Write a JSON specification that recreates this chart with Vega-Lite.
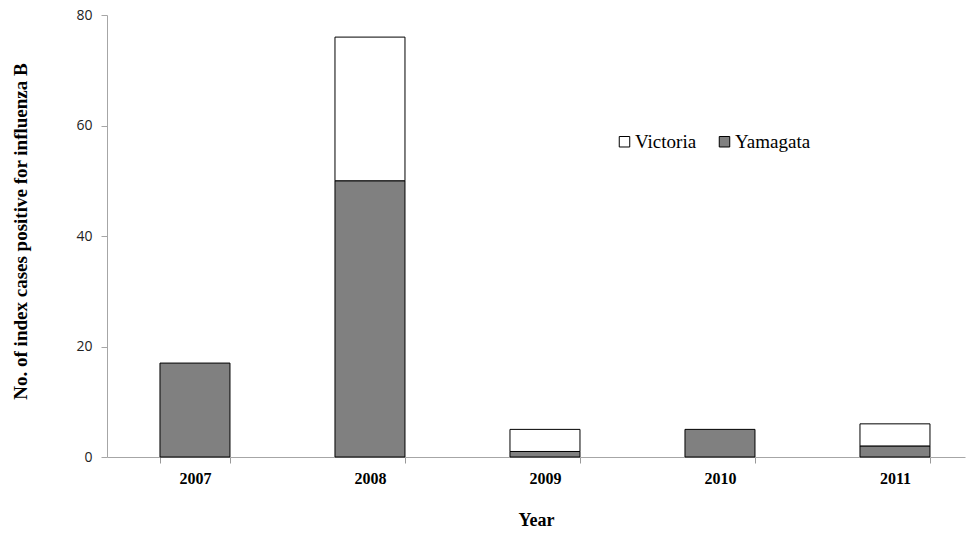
{
  "$schema": "https://vega.github.io/schema/vega-lite/v6.json",
  "width": 858,
  "height": 442,
  "autosize": "none",
  "padding": {"left": 107, "top": 15, "right": 7, "bottom": 79},
  "background": "white",
  "data": {
    "values": [
      {"year": "2007", "strain": "Yamagata", "cases": 17},
      {"year": "2008", "strain": "Yamagata", "cases": 50},
      {"year": "2008", "strain": "Victoria", "cases": 26},
      {"year": "2009", "strain": "Yamagata", "cases": 1},
      {"year": "2009", "strain": "Victoria", "cases": 4},
      {"year": "2010", "strain": "Yamagata", "cases": 5},
      {"year": "2011", "strain": "Yamagata", "cases": 2},
      {"year": "2011", "strain": "Victoria", "cases": 4}
    ]
  },
  "mark": {"type": "bar", "stroke": "#000000", "strokeWidth": 1},
  "encoding": {
    "x": {
      "field": "year",
      "type": "nominal",
      "scale": {"paddingInner": 0.6, "paddingOuter": 0.2514, "align": 0.602},
      "axis": {
        "title": "Year",
        "labelAngle": 0,
        "labelFont": "Liberation Serif",
        "labelFontWeight": "bold",
        "labelFontSize": 16,
        "labelColor": "#000000",
        "labelPadding": 7,
        "tickBand": "extent",
        "tickColor": "#999999",
        "tickSize": 6,
        "domainColor": "#a6a6a6",
        "titleFont": "Liberation Serif",
        "titleFontWeight": "bold",
        "titleFontSize": 18,
        "titleColor": "#000000",
        "titleY": 63,
        "titleBaseline": "middle"
      }
    },
    "y": {
      "field": "cases",
      "type": "quantitative",
      "stack": "zero",
      "scale": {"domain": [0, 80]},
      "axis": {
        "title": "No. of index cases positive for influenza B",
        "values": [0, 20, 40, 60, 80],
        "grid": false,
        "labelFont": "Open Sans",
        "labelFontSize": 14,
        "labelColor": "#222222",
        "labelPadding": 9,
        "tickColor": "#a6a6a6",
        "tickSize": 6,
        "domainColor": "#a6a6a6",
        "titleFont": "Liberation Serif",
        "titleFontWeight": "bold",
        "titleFontSize": 19,
        "titleColor": "#000000",
        "titleX": -87,
        "titleY": 216,
        "titleBaseline": "middle"
      }
    },
    "color": {
      "field": "strain",
      "type": "nominal",
      "scale": {"domain": ["Victoria", "Yamagata"], "range": ["#ffffff", "#808080"]},
      "legend": {
        "title": null,
        "orient": "none",
        "legendX": 508,
        "legendY": 117,
        "direction": "horizontal",
        "symbolType": "square",
        "symbolSize": 110,
        "symbolStrokeColor": "#000000",
        "symbolStrokeWidth": 1,
        "labelFont": "Liberation Serif",
        "labelFontSize": 19,
        "labelColor": "#000000",
        "labelOffset": 1,
        "columnPadding": 18
      }
    },
    "order": {"field": "strain", "sort": "descending"}
  },
  "config": {"view": {"stroke": null}}
}
